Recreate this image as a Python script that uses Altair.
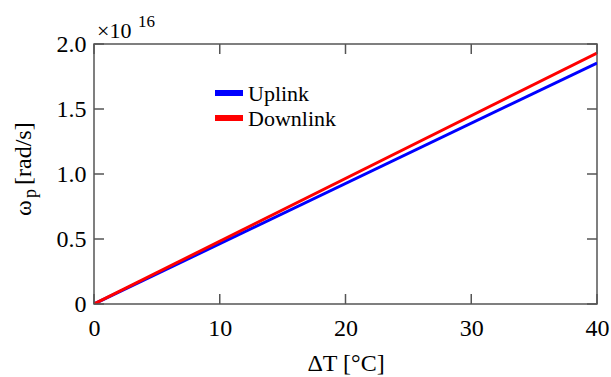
import altair as alt
import pandas as pd

# data (omega_p in units of 1e16 rad/s)
delta_t = [0, 40]
uplink = [0, 1.854]
downlink = [0, 1.931]
series_names = ["Uplink", "Downlink"]
series_colors = ["#0000FF", "#FF0000"]
x_ticks = [0, 10, 20, 30, 40]
y_ticks = [0, 0.5, 1.0, 1.5, 2.0]
x_title = "ΔT [°C]"

FONT = "'Times New Roman', 'Liberation Serif', Times, serif"
FS = 24
W, H = 503, 260
FRAME = "#555555"

rows = []
for name, vals in zip(series_names, [uplink, downlink]):
    for x, y in zip(delta_t, vals):
        rows.append({"dT": x, "w": y, "series": name})
df = pd.DataFrame(rows)

xs = alt.Scale(domain=[0, 40], nice=False, zero=False)
ys = alt.Scale(domain=[0, 2.0], nice=False, zero=False)
cs = alt.Scale(domain=series_names, range=series_colors)

x_axis = alt.Axis(
    values=x_ticks, ticks=False, domain=False, grid=False, labelFlush=False,
    labelFont=FONT, labelFontSize=FS, labelColor="black", labelPadding=12,
    title=x_title, titleFont=FONT, titleFontSize=FS, titleFontWeight="normal",
    titleColor="black", titlePadding=11)
y_axis = alt.Axis(
    values=y_ticks, ticks=False, domain=False, grid=False, labelFlush=False,
    labelExpr="datum.value == 0 ? '0' : format(datum.value, '.1f')",
    labelFont=FONT, labelFontSize=FS, labelColor="black", labelPadding=8,
    title=None)

lines = alt.Chart(df).mark_line(strokeWidth=3, clip=True).encode(
    x=alt.X("dT:Q", scale=xs, axis=x_axis, title=x_title),
    y=alt.Y("w:Q", scale=ys, axis=y_axis, title=None),
    color=alt.Color("series:N", scale=cs, legend=None),
    order=alt.Order("series:N", sort="descending"),
)

tick_df = pd.DataFrame(
    [{"axis": "x", "v": v} for v in x_ticks] + [{"axis": "y", "v": v} for v in y_ticks])
TL = 10
xb = alt.Chart(tick_df).transform_filter("datum.axis == 'x'").mark_rule(
    color=FRAME, strokeWidth=1.5).encode(
    x=alt.X("v:Q", scale=xs, axis=x_axis, title=x_title), y=alt.value(H - TL), y2=alt.value(H))
xtop = alt.Chart(tick_df).transform_filter("datum.axis == 'x'").mark_rule(
    color=FRAME, strokeWidth=1.5).encode(
    x=alt.X("v:Q", scale=xs, axis=x_axis, title=x_title), y=alt.value(0), y2=alt.value(TL))
yl = alt.Chart(tick_df).transform_filter("datum.axis == 'y'").mark_rule(
    color=FRAME, strokeWidth=1.5).encode(
    y=alt.Y("v:Q", scale=ys, axis=y_axis, title=None), x=alt.value(0), x2=alt.value(TL))
yr = alt.Chart(tick_df).transform_filter("datum.axis == 'y'").mark_rule(
    color=FRAME, strokeWidth=1.5).encode(
    y=alt.Y("v:Q", scale=ys, axis=y_axis, title=None), x=alt.value(W - TL), x2=alt.value(W))

# legend
one = pd.DataFrame({"a": [0]})
legend_layers = []
for i, (name, col) in enumerate(zip(series_names, series_colors)):
    yy = 49 + 25 * i
    legend_layers.append(alt.Chart(one).mark_rule(strokeWidth=6, color=col).encode(
        x=alt.value(121), x2=alt.value(149), y=alt.value(yy)))
    legend_layers.append(alt.Chart(one).mark_text(
        font=FONT, fontSize=22, align="left", baseline="middle", color="black").encode(
        x=alt.value(154), y=alt.value(yy + 1), text=alt.value(name)))

# exponent
exp_base = alt.Chart(one).mark_text(font=FONT, fontSize=22, align="left",
                                    baseline="alphabetic", color="black").encode(
    x=alt.value(3), y=alt.value(-6), text=alt.value("×10"))
exp_sup = alt.Chart(one).mark_text(font=FONT, fontSize=17, align="left",
                                   baseline="alphabetic", color="black").encode(
    x=alt.value(44), y=alt.value(-17), text=alt.value("16"))

# y title with subscript
yt1 = alt.Chart(one).mark_text(font=FONT, fontSize=FS, align="left", angle=270,
                               baseline="alphabetic", color="black").encode(
    x=alt.value(-63), y=alt.value(172), text=alt.value("ω"))
yt2 = alt.Chart(one).mark_text(font=FONT, fontSize=18, align="left", angle=270,
                               baseline="alphabetic", color="black").encode(
    x=alt.value(-58), y=alt.value(154), text=alt.value("p"))
yt3 = alt.Chart(one).mark_text(font=FONT, fontSize=FS, align="left", angle=270,
                               baseline="alphabetic", color="black").encode(
    x=alt.value(-63), y=alt.value(141), text=alt.value(" [rad/s]"))

chart = alt.layer(lines, xb, xtop, yl, yr, *legend_layers,
                  exp_base, exp_sup, yt1, yt2, yt3).properties(
    width=W, height=H,
    background="white",
    autosize=alt.AutoSizeParams(type="none"),
    padding={"left": 94, "top": 44, "right": 14, "bottom": 73},
).configure_view(stroke=FRAME, strokeWidth=1.5)

chart.save("out.html", embed_options={"renderer": "svg", "actions": False})
